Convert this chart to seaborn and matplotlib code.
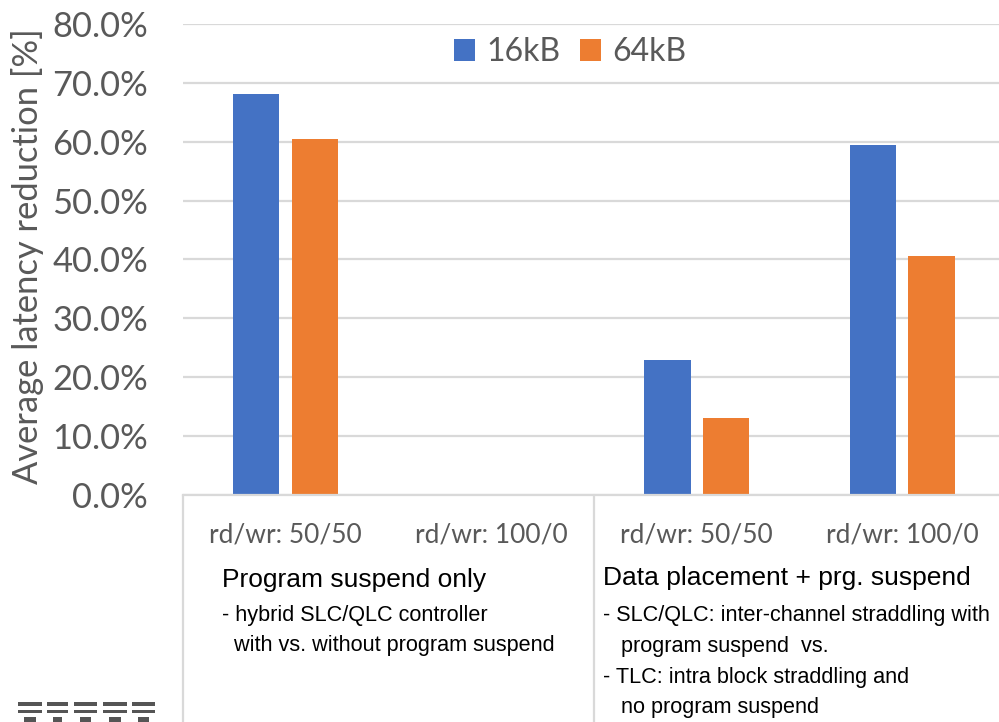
import matplotlib
matplotlib.use("Agg")
import matplotlib.pyplot as plt
import matplotlib.transforms as mtransforms
from matplotlib.lines import Line2D
from matplotlib.patches import Rectangle
import numpy as np
import pandas as pd
import seaborn as sns

# ---- data -------------------------------------------------------------
categories = ["rd/wr: 50/50", "rd/wr: 100/0", "rd/wr: 50/50", "rd/wr: 100/0"]
sizes = ["16kB", "64kB"]
reduction_16kB = [0.680, np.nan, 0.229, 0.594]
reduction_64kB = [0.605, np.nan, 0.130, 0.405]
yticks = [0.0, 0.1, 0.2, 0.3, 0.4, 0.5, 0.6, 0.7, 0.8]

group_titles = ["Program suspend only", "Data placement + prg. suspend"]
group_notes = [
    ["- hybrid SLC/QLC controller",
     "  with vs. without program suspend"],
    ["- SLC/QLC: inter-channel straddling with",
     "   program suspend  vs.",
     "- TLC: intra block straddling and",
     "   no program suspend"],
]

colors = ["#4472C4", "#ED7D31"]
grey_text = "#595959"
grid_grey = "#D9D9D9"

rows = []
for slot in range(len(categories)):
    rows.append({"slot": slot, "size": sizes[0], "value": reduction_16kB[slot]})
    rows.append({"slot": slot, "size": sizes[1], "value": reduction_64kB[slot]})
df = pd.DataFrame(rows)

# ---- figure ------------------------------------------------------------
sns.set_theme(style="white")
plt.rcParams["font.family"] = ["Lato", "DejaVu Sans"]

W, H = 999, 722
fig = plt.figure(figsize=(W / 100, H / 100), dpi=100)

x_left_px, x_right_px = 182.7, 999.0
y_top_px, y_bot_px = 23.8, 495.0
cat_px = 205.6
ax = fig.add_axes([x_left_px / W, 1 - y_bot_px / H,
                   (x_right_px - x_left_px) / W, (y_bot_px - y_top_px) / H])

sns.barplot(data=df, x="slot", y="value", hue="size", order=[0, 1, 2, 3],
            hue_order=sizes, palette=colors, width=0.568, gap=0.211,
            errorbar=None, linewidth=0, saturation=1, ax=ax)

ax.set_xlim(-0.5, -0.5 + (x_right_px - x_left_px) / cat_px)
ax.set_ylim(0, 0.8)
ax.set_yticks(yticks)
ax.set_yticklabels([f"{t * 100:.1f}%" for t in yticks])
ax.tick_params(axis="y", length=0, pad=25, labelsize=24.8, labelcolor=grey_text)
ax.set_xticks(range(len(categories)))
ax.set_xticklabels(categories)
ax.tick_params(axis="x", length=0, pad=20, labelsize=19, labelcolor=grey_text)
ax.set_xlabel("")
ax.set_ylabel("")

ax.yaxis.grid(True, color=grid_grey, linewidth=1.6)
ax.set_axisbelow(True)
for side in ["left", "right", "top"]:
    ax.spines[side].set_visible(False)
ax.spines["bottom"].set_color(grid_grey)
ax.spines["bottom"].set_linewidth(1.6)

fig.text(28 / W, 1 - 256 / H, "Average latency reduction [%]", rotation=90,
         ha="center", va="center", fontsize=24.8, color=grey_text)

# legend across the top
sns.move_legend(ax, "center", bbox_to_anchor=(570 / W, 1 - 52 / H),
                bbox_transform=fig.transFigure, ncol=2, frameon=False,
                title=None, fontsize=23, handlelength=0.66, handleheight=0.66,
                handletextpad=0.35, columnspacing=0.62, borderpad=0)
for t in ax.get_legend().get_texts():
    t.set_color(grey_text)

# group separators below the axis
blend = mtransforms.blended_transform_factory(ax.transData, fig.transFigure)
for xd in [-0.5, 1.5]:
    fig.add_artist(Line2D([xd, xd], [0, 1 - y_bot_px / H], transform=blend,
                          color=grid_grey, linewidth=1.6))

# group descriptions
arial = ["Liberation Sans", "DejaVu Sans"]
title_x = [-0.31, 1.545]
title_y = [580, 578]
note_y = [[615, 645], [615, 646.5, 677, 708]]
for g in range(2):
    fig.text(title_x[g], 1 - title_y[g] / H, group_titles[g], transform=blend,
             ha="left", va="center", fontsize=19, color="black", family=arial)
    for line, yp in zip(group_notes[g], note_y[g]):
        fig.text(title_x[g], 1 - yp / H, line, transform=blend,
                 ha="left", va="center", fontsize=15.6, color="black",
                 family=arial)

# striped logo mark at the bottom left
stripe_x = [(18, 42), (47, 68), (74, 97), (103, 127), (132, 155)]
for (x0, x1) in stripe_x:
    for (y0, y1) in [(702, 705.5), (709.5, 713)]:
        fig.add_artist(Rectangle((x0 / W, 1 - y1 / H), (x1 - x0) / W,
                                 (y1 - y0) / H, transform=fig.transFigure,
                                 color="#555555", linewidth=0))
    fig.add_artist(Rectangle(((x0 + 6) / W, 0), (x1 - x0 - 12) / W,
                             (722 - 717) / H, transform=fig.transFigure,
                             color="#555555", linewidth=0))

fig.savefig("out.png", dpi=100)
